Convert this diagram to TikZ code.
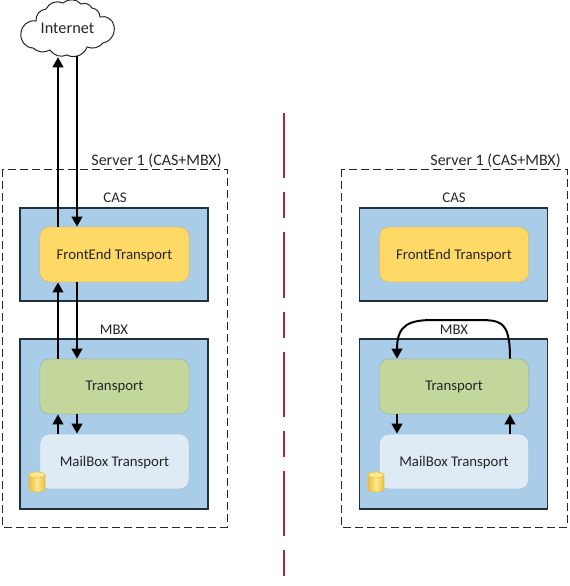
\documentclass[tikz,border=0pt]{standalone}
\usepackage{fontspec}
\setmainfont{Carlito}
\usetikzlibrary{arrows.meta,shapes.geometric}
\definecolor{panelblue}{HTML}{A9CCE8}
\definecolor{panelline}{HTML}{22303C}
\definecolor{feyellow}{HTML}{FFD966}
\definecolor{feline}{HTML}{C8C090}
\definecolor{trgreen}{HTML}{C3D69B}
\definecolor{trline}{HTML}{9FBDB0}
\definecolor{mblight}{HTML}{DEEBF4}
\definecolor{mbline}{HTML}{A8C8E0}
\definecolor{cylfill}{HTML}{FFE98F}
\definecolor{cyldark}{HTML}{E8BE40}
\definecolor{cylline}{HTML}{E2C04A}
\definecolor{redline}{HTML}{A8283E}
\tikzset{
  x=0.75pt,y=-0.75pt,
  every node/.style={font=\fontsize{11.1pt}{13pt}\selectfont,text=black!85},
  outer/.style={draw=black!85,line width=0.75pt,dash pattern=on 6pt off 3pt},
  panel/.style={draw=panelline,line width=0.85pt,fill=panelblue,minimum width=141pt,inner sep=0pt},
  inner/.style={rounded corners=7pt,line width=0.6pt,minimum width=112pt,minimum height=41.25pt,inner sep=0pt,text depth=0.8pt},
  fe/.style={inner,draw=feline,fill=feyellow},
  tr/.style={inner,draw=trline,fill=trgreen},
  mb/.style={inner,draw=mbline,fill=mblight},
  flow/.style={line width=1.5pt,draw=black,-{Triangle[length=7.5pt,width=8pt]}},
  label/.style={inner sep=0pt},
  serverlabel/.style={label,font=\fontsize{12pt}{14pt}\selectfont},
  cloudlabel/.style={label,font=\fontsize{12.2pt}{14pt}\selectfont},
  dbpic/.pic={
    \draw[draw=cylline,line width=0.5pt,left color=cyldark,right color=cyldark,middle color=cylfill]
      (-8,-7) -- (-8,7) arc[start angle=180,end angle=0,x radius=8,y radius=3] -- (8,-7) -- cycle;
    \draw[draw=cylline,line width=0.5pt,fill=cylfill] (0,-7) ellipse[x radius=8,y radius=3];
  },
}
\begin{document}
\begin{tikzpicture}
\useasboundingbox (0,0) rectangle (570,586);
\coordinate (xa) at (58,0);
\coordinate (xb) at (77,0);
\coordinate (xc) at (397,0);
\coordinate (xd) at (510,0);
% cloud
\draw[line width=0.75pt,draw=black!85,fill=white]
 (21,33) to[bend left=50] (36,21) to[bend left=45] (46,9) to[bend left=45] (63,3)
 to[bend left=45] (81,4) to[bend left=40] (92,8) to[bend left=40] (100,17)
 to[bend left=50] (114,26) to[bend left=45] (103,43) to[bend left=35] (87,47)
 to[bend left=50] (67,55) to[bend left=40] (50,50) to[bend left=35] (33,48)
 to[bend left=50] (21,33) -- cycle;
\node[cloudlabel,minimum width=93*0.75pt,minimum height=53*0.75pt] (cloud) at (67.5,28.5) {Internet};
% left server
\draw[outer] (2,169) rectangle (227,527);
\node[serverlabel] (sl) at (156.5,160.5) {Server 1 (CAS+MBX)};
\node[panel,minimum height=69.75pt] (casl) at (114,254.5) {};
\node[panel,minimum height=127.5pt] (mbxl) at (114,424) {};
\node[label] (casll) at (115,197.5) {CAS};
\node[label] (mbxll) at (114,329.5) {MBX};
\node[fe] (fel) at (114.5,254.5) {FrontEnd Transport};
\node[tr] (trl) at (114.5,386.5) {Transport};
\node[mb] (mbl) at (114.5,461.5) {MailBox Transport};
\pic at (37,482) {dbpic};
% right server
\draw[outer] (341,169) rectangle (567,527);
\node[serverlabel] (sr) at (495.5,160.5) {Server 1 (CAS+MBX)};
\node[panel,minimum height=69.75pt] (casr) at (453.5,254.5) {};
\node[panel,minimum height=127.5pt] (mbxr) at (453.5,424) {};
\node[label] (casrl) at (454,197.5) {CAS};
\node[fe] (fer) at (454,254.5) {FrontEnd Transport};
\node[tr] (trr) at (454,386.5) {Transport};
\node[mb] (mbr) at (454,461.5) {MailBox Transport};
\pic at (376,482) {dbpic};
\node[label] (mbxrl) at (454,329.5) {MBX};
% red divider
\coordinate (rt) at (284,113);
\coordinate (rb) at (284,577);
\draw[redline,line width=1.1pt,dash pattern=on 49pt off 10.5pt on 19.5pt off 10.5pt] (rt) -- (rb);
% left flows
\draw[flow] (fel.north -| xa) -- ([yshift=-1.5pt]cloud.south -| xa);
\draw[flow] ([yshift=-0.75pt]cloud.south -| xb) -- (fel.north -| xb);
\draw[flow] (trl.north -| xa) -- (fel.south -| xa);
\draw[flow] (fel.south -| xb) -- (trl.north -| xb);
\draw[flow] (mbl.north -| xa) -- (trl.south -| xa);
\draw[flow] (trl.south -| xb) -- (mbl.north -| xb);
% right flows
\draw[flow] (trr.south -| xc) -- (mbr.north -| xc);
\draw[flow] (mbr.north -| xd) -- (trr.south -| xd);
\draw[flow] (trr.north -| xd) .. controls ([yshift=30pt]trr.north -| xd) and (500,320) .. (472,320)
  -- (434,320) .. controls (410,320) and ([yshift=26pt]trr.north -| xc) .. (trr.north -| xc);
\end{tikzpicture}
\end{document}
